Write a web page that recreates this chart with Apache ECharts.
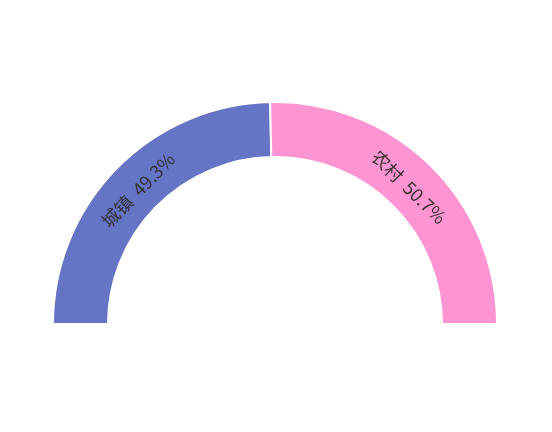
<!DOCTYPE html>
<html>
<head>
<meta charset="UTF-8">
<script type="text/javascript" src="https://cdn.jsdelivr.net/npm/echarts@6/dist/echarts.min.js"></script>
<style type="text/css">
 html,body{margin:0;padding:0;background:#fff;}
</style>
<title>城镇农村占比</title>
</head>
<body>
<div id="mainChart" style="width:552px;height:432px;"></div>
<script type="text/javascript">
// 分类和数值
var categories = ['城镇', '农村'];
var values = [49.3, 50.7];
var colors = ['#6574c4', '#ff94d2'];

var myChart = echarts.init(document.getElementById('mainChart'));
var pieData = [];
for (var i = 0; i < categories.length; i++) {
    pieData.push({name: categories[i], value: values[i], itemStyle: {color: colors[i]}});
}
var option = {
    animation: false,
    series: [
        {
            type: 'pie',
            center: [275, 324],
            radius: [167, 222],
            startAngle: 180,
            endAngle: 0,
            silent: true,
            itemStyle: {
                borderColor: '#fff',
                borderWidth: 2
            },
            label: {show: false},
            labelLine: {show: false},
            data: pieData
        },
        {
            // 只放文字，半径略小让文字靠内
            type: 'pie',
            center: [275, 324],
            radius: [155, 222],
            startAngle: 180,
            endAngle: 0,
            silent: true,
            itemStyle: {color: 'rgba(0,0,0,0)', borderWidth: 0},
            label: {
                show: true,
                position: 'inside',
                rotate: 'tangential',
                formatter: '{b}  {d}%',
                fontSize: 18,
                color: '#333',
                fontFamily: '"Noto Sans CJK SC", "Noto Sans", sans-serif'
            },
            labelLine: {show: false},
            data: pieData.map(function (d) { return {name: d.name, value: d.value}; })
        }
    ]
};
myChart.setOption(option);
</script>
</body>
</html>
